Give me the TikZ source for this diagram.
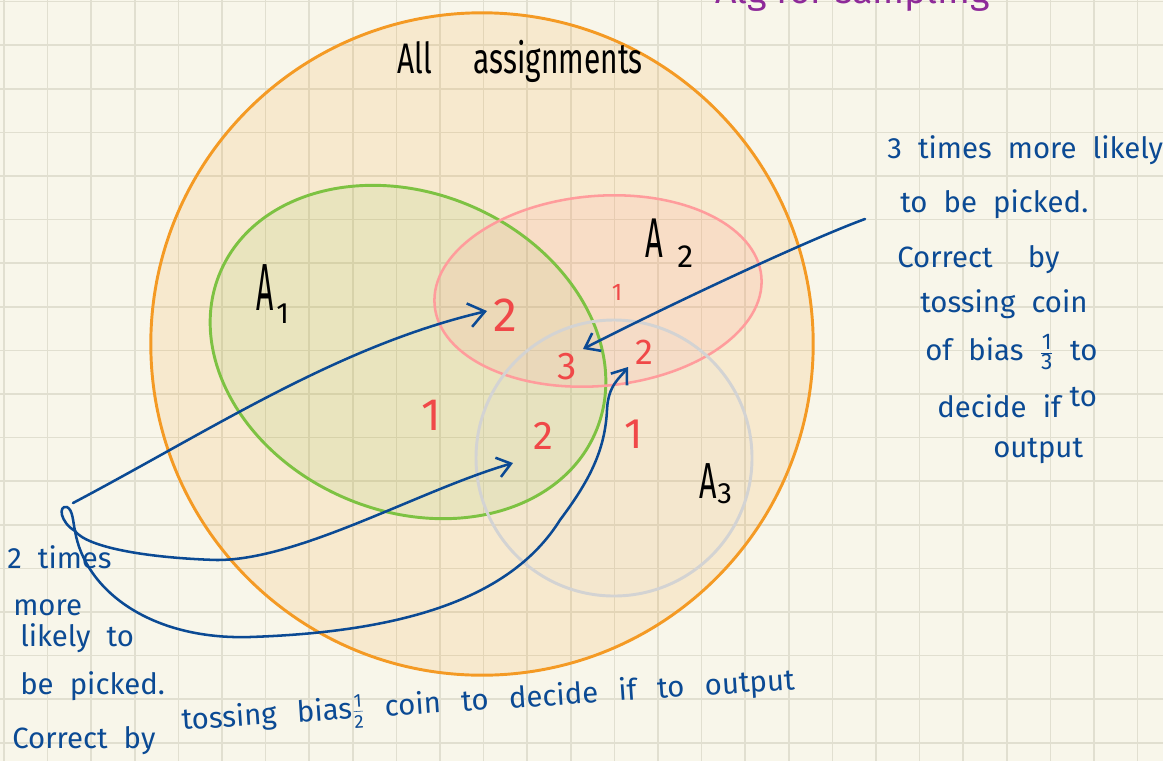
\documentclass[tikz,border=0pt]{standalone}
\usepackage{fontspec}
\usepackage{graphicx}
\usetikzlibrary{arrows.meta}
\newfontfamily\handf{Fira Sans}
\definecolor{paper}{HTML}{F8F6EA}
\definecolor{gridc}{HTML}{E1DFD0}
\definecolor{ink}{HTML}{0B4A94}
\definecolor{numred}{HTML}{F04848}
\definecolor{orng}{HTML}{F49A24}
\definecolor{grn}{HTML}{7DC242}
\definecolor{pnk}{HTML}{FF9C9C}
\definecolor{gry}{HTML}{D3D3D3}
\definecolor{purp}{HTML}{8E2A99}
\newcommand\hfr[3]{\(\frac{\hbox{\fontsize{#1}{#1}\selectfont#2}}{\hbox{\fontsize{#1}{#1}\selectfont#3}}\)}
\begin{document}
\begin{tikzpicture}[x=0.75pt,y=-0.75pt,
  hand/.style={text=ink, inner sep=0pt, anchor=base west,
    font={\handf\fontsize{22}{26}\selectfont\spaceskip=.55em plus .1em\relax}},
  lbl/.style={text=black, inner sep=0pt, anchor=base west,
    font={\handf\fontsize{#1}{#1}\selectfont}},
  num/.style={text=numred, inner sep=0pt, font={\handf\fontsize{#1}{#1}\selectfont}},
  inkline/.style={draw=ink, line width=1.9pt, line cap=round, line join=round},
  arr/.style={inkline, -{Straight Barb[length=10pt,width=15pt]}},
  setline/.style={line width=2.2pt},
  gridline/.style={draw=gridc, line width=1.2pt}]
\useasboundingbox (0,0) rectangle (1163,761);
\clip (0,0) rectangle (1163,761);
\fill[paper] (0,0) rectangle (1163,761);
% grid
\foreach \k in {0,...,26} \draw[gridline] ({4+43.6*\k},0) -- ({4+43.6*\k},761);
\foreach \k in {0,...,17} \draw[gridline] (0,{1.5+43.6*\k}) -- (1163,{1.5+43.6*\k});
% set fills
\fill[orng, fill opacity=.14] (482,344) circle [radius=248.4pt];
\fill[grn, fill opacity=.11, rotate around={-23:(408,352)}] (408,352) ellipse [x radius=153pt, y radius=119.25pt];
\fill[pnk, fill opacity=.15, rotate around={5:(598,291)}] (598,291) ellipse [x radius=123pt, y radius=71.25pt];
\fill[gry, fill opacity=.08] (614,458) circle [radius=103.5pt];
% set outlines
\draw[setline, orng] (482,344) circle [radius=248.4pt];
\draw[setline, grn, rotate around={-23:(408,352)}] (408,352) ellipse [x radius=153pt, y radius=119.25pt];
\draw[line width=1.9pt, pnk, rotate around={5:(598,291)}] (598,291) ellipse [x radius=123pt, y radius=71.25pt];
\draw[setline, gry] (614,458) circle [radius=103.5pt];
% title fragment (cut off at the top edge, as in the page)
\node[anchor=base west, inner sep=0pt, text=purp, font={\handf\fontsize{28}{28}\selectfont}] (ttl) at (715,3) {Alg for sampling};
% labels
\node[lbl=32] (all) at (397,73) {\scalebox{0.7}[1]{All\hspace{1.4em}assignments}};
\node[lbl=50] (a1) at (256,310) {\scalebox{0.45}[1]{A}};
\node[lbl=22] (a1s) at (276,323) {1};
\node[lbl=42] (a2) at (645,257) {\scalebox{0.55}[1]{A}};
\node[lbl=24] (a2s) at (677,267) {2};
\node[lbl=38] (a3) at (699,498) {\scalebox{0.6}[1]{A}};
\node[lbl=22] (a3s) at (717,503) {3};
% numbers
\node[num=36] (n2a) at (505,315) {2};
\node[num=18] (n1b) at (617,292) {1};
\node[num=29] (n3) at (567,367) {3};
\node[num=27] (n2c) at (644,352) {2};
\node[num=34] (n1a) at (431,415) {1};
\node[num=30] (n2b) at (543,436) {2};
\node[num=32] (n1c) at (634,434) {1};
% right annotation
\node[hand] (r1) at (887,158) {3 times more likely};
\node[hand] (r2) at (900,212) {to be picked.};
\node[hand] (r3) at (897,267) {Correct\hspace{1.2em}by};
\node[hand] (r4) at (920,312) {tossing coin};
\node[hand] (r5) at (925,360) {of bias \hfr{17}{1}{3} to};
\node[hand] (r6) at (937,417) {decide if\hspace{0.3em}\raisebox{8pt}{to}};
\node[hand] (r7) at (993,457) {output};
% left annotation
\node[hand] (l1) at (7,568) {2 times};
\node[hand] (l2) at (13,615) {more};
\node[hand] (l3) at (20,646) {likely to};
\node[hand] (l4) at (20,694) {be picked.};
\node[hand] (l5) at (12,748) {Correct by};
\node[hand, rotate=3.8, font={\handf\fontsize{22}{26}\selectfont\spaceskip=.7em plus .1em\relax}] (l6) at (182,730) {tossing bias\hfr{14}{1}{2} coin to decide if to output};
% arrows
\coordinate (as) at (865,219);
\coordinate (at) at (583,349);
\draw[arr] (as) .. controls (805,241) and (663,308) .. (at);
\coordinate (bs) at (73,503);
\coordinate (bt) at (487,311);
\draw[arr, -{Straight Barb[length=12pt,width=18pt]}] (bs) .. controls (213,429) and (338,346) .. (bt);
\coordinate (lp) at (75,531);
\draw[inkline] (lp) .. controls (60,522) and (58,505) .. (67,507) .. controls (73,510) and (73,522) .. (lp);
\coordinate (ct) at (513,463);
\draw[arr] (lp) .. controls (88,548) and (150,558) .. (217,560) .. controls (300,560) and (420,490) .. (ct);
\coordinate (dt) at (628,367);
\draw[arr] (lp) .. controls (85,590) and (150,640) .. (250,637) .. controls (400,632) and (510,600) .. (560,520) .. controls (590,480) and (605,450) .. (607,410) .. controls (608,385) and (620,378) .. (dt);
\end{tikzpicture}
\end{document}
